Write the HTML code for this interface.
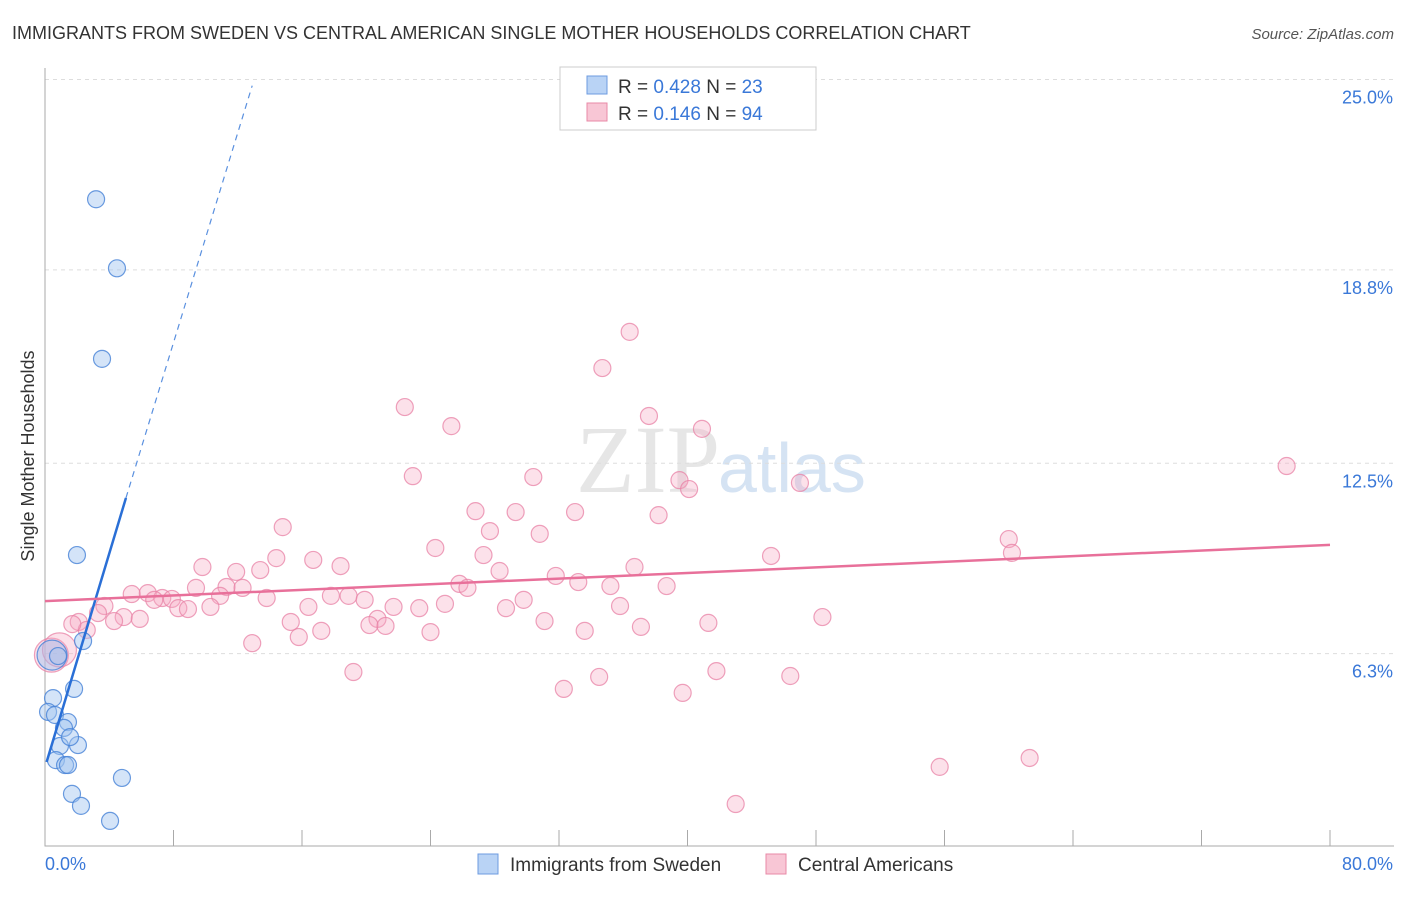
<!DOCTYPE html>
<html><head><meta charset="utf-8"><style>
body{margin:0;background:#fff;font-family:"Liberation Sans",sans-serif;}
</style></head><body>
<svg id="chart" width="1406" height="892" xmlns="http://www.w3.org/2000/svg">
<text x="12" y="39" font-size="18" fill="#333">IMMIGRANTS FROM SWEDEN VS CENTRAL AMERICAN SINGLE MOTHER HOUSEHOLDS CORRELATION CHART</text>
<text x="1394" y="39" font-size="15" fill="#555" font-style="italic" text-anchor="end">Source: ZipAtlas.com</text>
<text x="720" y="492" font-size="96" fill="#e6e6e6" text-anchor="end" font-family="Liberation Serif">ZIP</text>
<text x="718" y="492" font-size="70" fill="#d5e3f3">atlas</text>
<text transform="translate(34,456) rotate(-90)" font-size="18" fill="#333" text-anchor="middle">Single Mother Households</text>
<g id="grid"></g><g id="axes"></g><g id="pts"></g><g id="lines"></g>
<g>
<rect x="560" y="67" width="256" height="63" fill="#fff" stroke="#ccc"/>
<rect x="587" y="76" width="20" height="18" fill="#b9d3f5" stroke="#6d9be0"/>
<rect x="587" y="103" width="20" height="18" fill="#f8c6d5" stroke="#e889a7"/>
<text x="618" y="93" font-size="19" fill="#333">R = <tspan fill="#3a78d8">0.428</tspan>   N = <tspan fill="#3a78d8">23</tspan></text>
<text x="618" y="120" font-size="19" fill="#333">R = <tspan fill="#3a78d8"> 0.146</tspan>   N = <tspan fill="#3a78d8">94</tspan></text>
</g>
<g>
<rect x="478" y="854" width="20" height="20" fill="#b9d3f5" stroke="#6d9be0"/>
<text x="510" y="871" font-size="19" fill="#333">Immigrants from Sweden</text>
<rect x="766" y="854" width="20" height="20" fill="#f8c6d5" stroke="#e889a7"/>
<text x="798" y="871" font-size="19" fill="#333">Central Americans</text>
</g>
</svg>
<script>
const yTicks=[25,18.8,12.5,6.3];
const yTickLabels=["25.0%","18.8%","12.5%","6.3%"];
const xEndLabels=["0.0%","80.0%"];
const swedenX=[3.18,4.48,3.55,1.99,2.37,1.81,0.50,0.19,0.62,1.43,1.18,0.93,2.05,0.68,1.25,1.43,4.79,1.68,2.24,4.05,0.44,1.56,0.81];
const swedenY=[21.1,18.85,15.9,9.51,6.71,5.15,4.85,4.40,4.30,4.07,3.88,3.29,3.32,2.83,2.67,2.67,2.25,1.73,1.34,0.85,6.25,3.58,6.22];
const centralX=[36.4,34.7,22.4,37.6,25.3,40.9,77.3,22.9,30.4,39.5,40.1,47.0,26.8,29.3,33.0,38.2,14.8,27.7,30.8,60.0,60.2,24.3,45.2,27.3,14.4,16.7,9.8,18.4,36.7,13.4,11.9,28.3,31.8,33.2,35.2,38.7,25.8,26.3,9.4,11.3,12.3,5.4,6.4,7.3,7.9,6.8,10.9,13.8,17.8,18.9,19.9,29.8,3.7,10.3,8.3,8.9,16.4,21.7,23.3,24.9,28.7,35.8,3.3,4.9,5.9,4.3,15.3,20.7,48.4,41.3,20.2,21.2,31.1,37.1,2.1,2.6,1.7,17.2,24.0,33.6,15.8,12.9,19.2,41.8,34.5,46.4,32.3,39.7,55.7,61.3,43.0,0.4,0.9];
const centralY=[16.78,15.60,14.33,14.04,13.71,13.62,12.41,12.08,12.05,11.95,11.66,11.86,10.94,10.91,10.91,10.81,10.42,10.29,10.20,10.03,9.58,9.74,9.48,9.51,9.41,9.35,9.12,9.15,9.12,9.02,8.96,8.99,8.83,8.63,8.50,8.50,8.57,8.44,8.44,8.47,8.44,8.24,8.27,8.11,8.08,8.05,8.18,8.11,8.18,8.18,8.05,8.05,7.85,7.82,7.78,7.75,7.82,7.82,7.78,7.92,7.78,7.85,7.62,7.49,7.43,7.36,7.33,7.43,7.49,7.30,7.23,7.20,7.36,7.17,7.33,7.07,7.26,7.04,7.00,7.04,6.84,6.64,5.70,5.73,5.54,5.57,5.15,5.02,2.61,2.90,1.40,6.25,6.42];
const centralBig=[0.4,0.9];
const swedenBig=[0.44];
const sweTrend=[0.1,2.77,5.04,11.37,12.9,24.8];
const cenTrend=[0,8.01,80,9.84];

const NS="http://www.w3.org/2000/svg";
const X=v=>45+v*1285/80, Y=v=>847-v*30.7;
function mk(tag,parent,attrs){const e=document.createElementNS(NS,tag);for(const k in attrs)e.setAttribute(k,attrs[k]);document.getElementById(parent).appendChild(e);return e;}
yTicks.forEach((t,i)=>{
 const l=mk('line','grid',{x1:45,x2:1394,y1:Y(t),y2:Y(t),stroke:'#ddd','stroke-dasharray':'4,4'});
 
 
 const tx=mk('text','axes',{x:1393,y:Y(t)+24,'font-size':18,fill:'#3a78d8','text-anchor':'end'});
 tx.textContent=yTickLabels[i];
 
 
});
const ax=mk('path','axes',{d:'M45,68V846H1394',stroke:'#aaa',fill:'none'});


for(let i=1;i<=10;i++){const tk=mk('line','axes',{x1:X(i*8),x2:X(i*8),y1:830,y2:846,stroke:'#aaa'});
 
 }
[0,80].forEach((v,i)=>{const t=mk('text','axes',{x:i?1393:45,y:870,'font-size':18,fill:'#3a78d8','text-anchor':i?'end':'start'});t.textContent=xEndLabels[i];
 
 });
centralX.forEach((x,i)=>{const big=i>=centralX.length-2;
 const c=mk('circle','pts',{cx:X(x),cy:Y(centralY[i]),r:big?17:8.5,fill:'rgba(246,170,195,0.35)',stroke:'rgba(232,130,165,0.75)','stroke-width':1.2});
 
 });
swedenX.forEach((x,i)=>{const big=i==20;
 const c=mk('circle','pts',{cx:X(x),cy:Y(swedenY[i]),r:big?15:8.5,fill:'rgba(160,195,240,0.45)',stroke:'rgba(70,130,215,0.8)','stroke-width':1.2});
 
 });
const l1=mk('line','lines',{x1:X(sweTrend[0]),y1:Y(sweTrend[1]),x2:X(sweTrend[2]),y2:Y(sweTrend[3]),stroke:'#2a6fd6','stroke-width':2.5});


const l2=mk('line','lines',{x1:X(sweTrend[2]),y1:Y(sweTrend[3]),x2:X(sweTrend[4]),y2:Y(sweTrend[5]),stroke:'#5a90df','stroke-width':1.2,'stroke-dasharray':'6,5'});


const l3=mk('line','lines',{x1:X(cenTrend[0]),y1:Y(cenTrend[1]),x2:X(cenTrend[2]),y2:Y(cenTrend[3]),stroke:'#e8709a','stroke-width':2.5});


</script>
</body></html>
